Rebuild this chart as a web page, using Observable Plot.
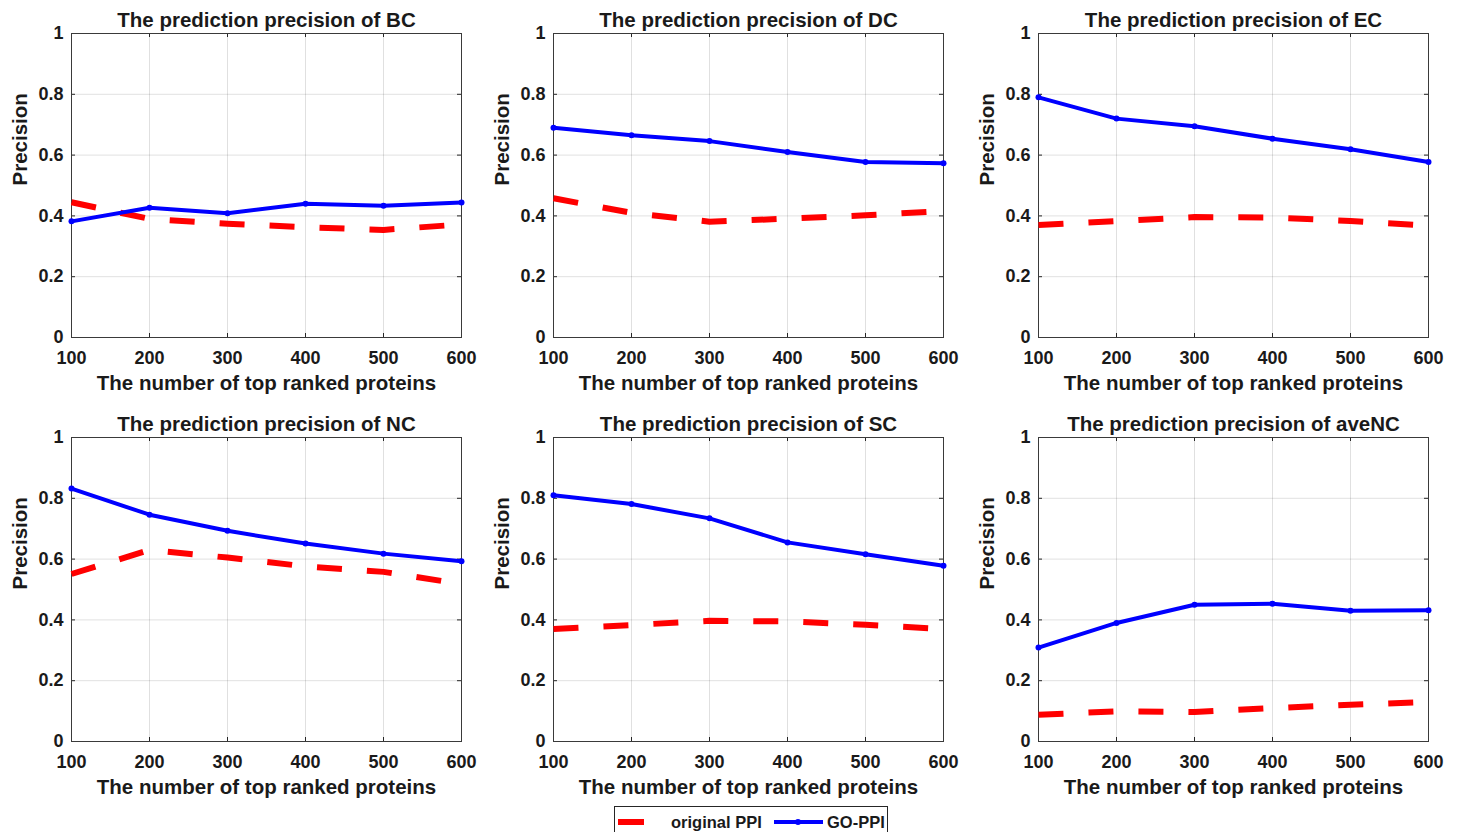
<!DOCTYPE html>
<html>
<head>
<meta charset="utf-8">
<script src="https://cdn.jsdelivr.net/npm/d3@7"></script>
<script src="https://cdn.jsdelivr.net/npm/@observablehq/plot@0.6"></script>
<style>
html, body { margin: 0; padding: 0; background: #fff; }
#root { position: relative; width: 1460px; height: 832px; overflow: hidden; background: #fff;
  font-family: "Liberation Sans", Arial, sans-serif; }
.panel { position: absolute; }
#legend { position: absolute; left: 614px; top: 806px; width: 274px; height: 32px;
  border: 1px solid #262626; background: #fff; box-sizing: border-box; }
#legend .lbl { position: absolute; top: 0; line-height: 30px; font-size: 16.5px; font-weight: bold; color: #1a1a1a; white-space: nowrap; }
</style>
</head>
<body>
<div id="root"></div>
<script>
// ---- data ----
const topRanked = [100, 200, 300, 400, 500, 600];
const yTicks = [0, 0.2, 0.4, 0.6, 0.8, 1];
const measures = ["BC", "DC", "EC", "NC", "SC", "aveNC"];
const seriesNames = ["original PPI", "GO-PPI"];

const originalBC = [0.445, 0.390, 0.374, 0.363, 0.354, 0.372];
const goBC       = [0.382, 0.427, 0.409, 0.440, 0.433, 0.444];
const originalDC = [0.458, 0.410, 0.381, 0.391, 0.402, 0.416];
const goDC       = [0.690, 0.665, 0.646, 0.610, 0.577, 0.573];
const originalEC = [0.370, 0.383, 0.396, 0.395, 0.383, 0.368];
const goEC       = [0.790, 0.720, 0.695, 0.654, 0.619, 0.577];
const originalNC = [0.551, 0.630, 0.605, 0.576, 0.558, 0.518];
const goNC       = [0.832, 0.746, 0.693, 0.651, 0.618, 0.593];
const originalSC = [0.370, 0.383, 0.397, 0.395, 0.384, 0.370];
const goSC       = [0.810, 0.781, 0.734, 0.655, 0.616, 0.578];
const originalAveNC = [0.088, 0.099, 0.097, 0.110, 0.121, 0.130];
const goAveNC       = [0.309, 0.390, 0.450, 0.453, 0.430, 0.432];

const originalSeries = [originalBC, originalDC, originalEC, originalNC, originalSC, originalAveNC];
const goSeries = [goBC, goDC, goEC, goNC, goSC, goAveNC];

// ---- layout ----
const FONT = '"Liberation Sans", Arial, sans-serif';
const INK = "#1a1a1a";
const frameW = 390, frameH = 304;
const mL = 72, mR = 30, mT = 33, mB = 64;
const frameLefts = [71, 553, 1038];
const frameTops = [33, 437];
const RED = "#ff0000", BLUE = "#0000ff";

const root = document.getElementById("root");

measures.forEach((m, i) => {
  const col = i % 3, row = Math.floor(i / 3);
  const orig = topRanked.map((x, j) => ({x, y: originalSeries[i][j]}));
  const go = topRanked.map((x, j) => ({x, y: goSeries[i][j]}));
  const chart = Plot.plot({
    width: mL + frameW + mR,
    height: mT + frameH + mB,
    marginLeft: mL, marginRight: mR, marginTop: mT, marginBottom: mB,
    style: {fontFamily: FONT, background: "transparent", overflow: "visible", color: INK},
    x: {domain: [100, 600]},
    y: {domain: [0, 1]},
    marks: [
      Plot.gridX(topRanked, {stroke: "#000", strokeOpacity: 0.12}),
      Plot.gridY(yTicks, {stroke: "#000", strokeOpacity: 0.12}),
      Plot.tickY(yTicks, {y: d => d, stroke: "#262626", insetRight: frameW - 4}),
      Plot.tickY(yTicks, {y: d => d, stroke: "#262626", insetLeft: frameW - 4}),
      Plot.tickX(topRanked, {x: d => d, stroke: "#262626", insetTop: frameH - 4}),
      Plot.tickX(topRanked, {x: d => d, stroke: "#262626", insetBottom: frameH - 4}),
      Plot.frame({stroke: "#3a3a3a", strokeWidth: 1}),
      Plot.axisX(topRanked, {tickSize: 0, tickPadding: 14, fontSize: 18, fontWeight: "bold", label: null, color: INK, tickFormat: d => String(d)}),
      Plot.axisY(yTicks, {tickSize: 0, tickPadding: 8, fontSize: 18, fontWeight: "bold", label: null, color: INK, tickFormat: d => String(+d.toFixed(1))}),
      Plot.line(orig, {x: "x", y: "y", stroke: RED, strokeWidth: 6, strokeDasharray: "25,25", strokeLinecap: "butt"}),
      Plot.line(go, {x: "x", y: "y", stroke: BLUE, strokeWidth: 4}),
      Plot.dot(go, {x: "x", y: "y", fill: BLUE, r: 3}),
      Plot.text([`The prediction precision of ${m}`], {frameAnchor: "top", lineAnchor: "middle", dy: -13, fontSize: 20.5, fontWeight: "bold", fill: INK}),
      Plot.text(["Precision"], {frameAnchor: "left", lineAnchor: "middle", dx: -51, rotate: -90, fontSize: 20.5, fontWeight: "bold", fill: INK}),
      Plot.text(["The number of top ranked proteins"], {frameAnchor: "bottom", lineAnchor: "middle", dy: 46, fontSize: 20.5, fontWeight: "bold", fill: INK})
    ]
  });
  const wrap = document.createElement("div");
  wrap.className = "panel";
  wrap.style.left = (frameLefts[col] - mL) + "px";
  wrap.style.top = (frameTops[row] - mT) + "px";
  wrap.appendChild(chart);
  root.appendChild(wrap);
});

// ---- legend ----
const legend = document.createElement("div");
legend.id = "legend";
legend.innerHTML = `
  <svg width="272" height="30" style="position:absolute;left:0;top:0">
    <line x1="3" x2="29" y1="15" y2="15" stroke="${RED}" stroke-width="6"/>
    <line x1="159" x2="208" y1="15" y2="15" stroke="${BLUE}" stroke-width="4"/>
    <circle cx="183" cy="15" r="3" fill="${BLUE}"/>
  </svg>
  <span class="lbl" style="left:56px">${seriesNames[0]}</span>
  <span class="lbl" style="left:212px">${seriesNames[1]}</span>`;
root.appendChild(legend);
</script>
</body>
</html>
